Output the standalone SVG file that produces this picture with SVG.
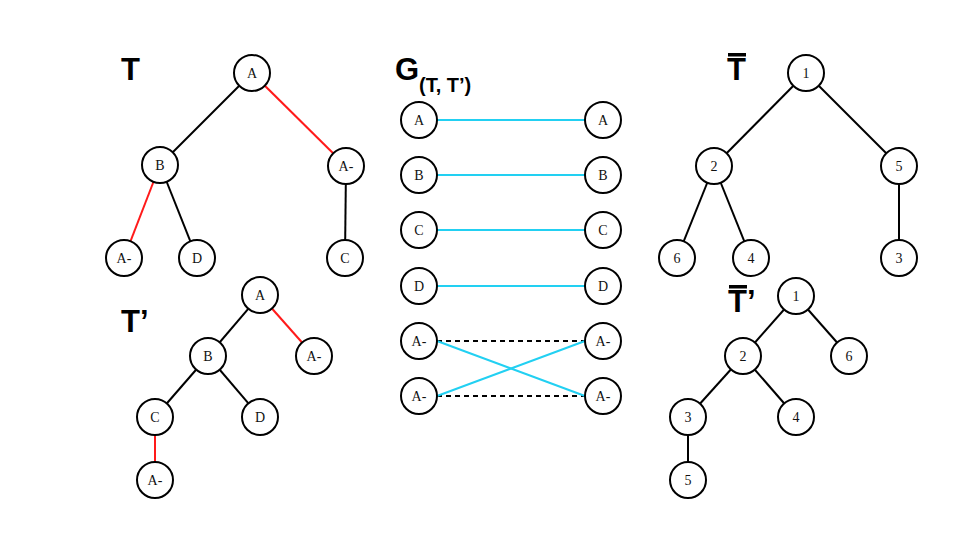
<svg xmlns="http://www.w3.org/2000/svg" width="960" height="540" viewBox="0 0 960 540">
  <style>
    .node circle { fill: #ffffff; stroke: #000000; stroke-width: 2; }
    .node text { font-family: "Liberation Serif", "Times New Roman", serif; font-size: 14px; fill: #111111; text-anchor: middle; dominant-baseline: central; }
    .edge { stroke: #000000; stroke-width: 2; fill: none; }
    .red { stroke: #ff1a1a; }
    .match { stroke: #22d0f2; stroke-width: 2; fill: none; }
    .dash { stroke: #000000; stroke-width: 2; stroke-dasharray: 5 4; fill: none; }
    .title { font-family: "Liberation Sans", Arial, sans-serif; font-weight: bold; fill: #000000; }
  </style>
  <rect width="960" height="540" fill="#ffffff"/>

  <!-- titles -->
  <text class="title" x="121" y="80" font-size="31">T</text>
  <text class="title" x="121" y="332" font-size="31">T’</text>
  <text class="title" x="395" y="80" font-size="31">G</text>
  <text class="title" x="419" y="92" font-size="20">(T, T’)</text>
  <text class="title" x="727" y="80" font-size="31">T</text>
  <rect x="728" y="53" width="18" height="3.5" fill="#000000"/>
  <text class="title" x="728" y="312" font-size="31">T’</text>
  <rect x="729" y="285" width="18" height="3.5" fill="#000000"/>

  <!-- connectors -->
  <g id="connectors">
    <!-- T -->
    <line class="edge" x1="252" y1="73" x2="160" y2="165"/>
    <line class="edge red" x1="252" y1="73" x2="346" y2="166"/>
    <line class="edge red" x1="160" y1="165" x2="124" y2="258"/>
    <line class="edge" x1="160" y1="165" x2="197" y2="258"/>
    <line class="edge" x1="346" y1="166" x2="345" y2="258"/>
    <!-- T' -->
    <line class="edge" x1="260" y1="295" x2="208" y2="356"/>
    <line class="edge red" x1="260" y1="295" x2="314" y2="356"/>
    <line class="edge" x1="208" y1="356" x2="155" y2="417"/>
    <line class="edge" x1="208" y1="356" x2="260" y2="417"/>
    <line class="edge red" x1="155" y1="417" x2="155" y2="480"/>
    <!-- G(T, T') -->
    <line class="match" x1="437" y1="120" x2="585" y2="120"/>
    <line class="match" x1="437" y1="175" x2="585" y2="175"/>
    <line class="match" x1="437" y1="230" x2="585" y2="230"/>
    <line class="match" x1="437" y1="286" x2="585" y2="286"/>
    <line class="dash" x1="437" y1="341" x2="585" y2="341"/>
    <line class="dash" x1="437" y1="396" x2="585" y2="396"/>
    <line class="match" x1="437" y1="341" x2="585" y2="396"/>
    <line class="match" x1="437" y1="396" x2="585" y2="341"/>
    <!-- T bar -->
    <line class="edge" x1="806" y1="73" x2="714" y2="166"/>
    <line class="edge" x1="806" y1="73" x2="899" y2="166"/>
    <line class="edge" x1="714" y1="166" x2="677" y2="258"/>
    <line class="edge" x1="714" y1="166" x2="751" y2="258"/>
    <line class="edge" x1="899" y1="166" x2="899" y2="258"/>
    <!-- T' bar -->
    <line class="edge" x1="796" y1="296" x2="743" y2="356"/>
    <line class="edge" x1="796" y1="296" x2="849" y2="356"/>
    <line class="edge" x1="743" y1="356" x2="688" y2="417"/>
    <line class="edge" x1="743" y1="356" x2="796" y2="417"/>
    <line class="edge" x1="688" y1="417" x2="688" y2="480"/>
  </g>

  <!-- tree T -->
  <g id="t-A" class="node"><circle cx="252" cy="73" r="18"/><text x="252" y="73">A</text></g>
  <g id="t-B" class="node"><circle cx="160" cy="165" r="18"/><text x="160" y="165">B</text></g>
  <g id="t-Am1" class="node"><circle cx="346" cy="166" r="18"/><text x="346" y="166">A-</text></g>
  <g id="t-Am2" class="node"><circle cx="124" cy="258" r="18"/><text x="124" y="258">A-</text></g>
  <g id="t-D" class="node"><circle cx="197" cy="258" r="18"/><text x="197" y="258">D</text></g>
  <g id="t-C" class="node"><circle cx="345" cy="258" r="18"/><text x="345" y="258">C</text></g>

  <!-- tree T' -->
  <g id="tp-A" class="node"><circle cx="260" cy="295" r="18"/><text x="260" y="295">A</text></g>
  <g id="tp-B" class="node"><circle cx="208" cy="356" r="18"/><text x="208" y="356">B</text></g>
  <g id="tp-Am1" class="node"><circle cx="314" cy="356" r="18"/><text x="314" y="356">A-</text></g>
  <g id="tp-C" class="node"><circle cx="155" cy="417" r="18"/><text x="155" y="417">C</text></g>
  <g id="tp-D" class="node"><circle cx="260" cy="417" r="18"/><text x="260" y="417">D</text></g>
  <g id="tp-Am2" class="node"><circle cx="155" cy="480" r="18"/><text x="155" y="480">A-</text></g>

  <!-- matching graph -->
  <g id="g-l-A" class="node"><circle cx="419" cy="120" r="18"/><text x="419" y="120">A</text></g>
  <g id="g-l-B" class="node"><circle cx="419" cy="175" r="18"/><text x="419" y="175">B</text></g>
  <g id="g-l-C" class="node"><circle cx="419" cy="230" r="18"/><text x="419" y="230">C</text></g>
  <g id="g-l-D" class="node"><circle cx="419" cy="286" r="18"/><text x="419" y="286">D</text></g>
  <g id="g-l-Am1" class="node"><circle cx="419" cy="341" r="18"/><text x="419" y="341">A-</text></g>
  <g id="g-l-Am2" class="node"><circle cx="419" cy="396" r="18"/><text x="419" y="396">A-</text></g>
  <g id="g-r-A" class="node"><circle cx="603" cy="120" r="18"/><text x="603" y="120">A</text></g>
  <g id="g-r-B" class="node"><circle cx="603" cy="175" r="18"/><text x="603" y="175">B</text></g>
  <g id="g-r-C" class="node"><circle cx="603" cy="230" r="18"/><text x="603" y="230">C</text></g>
  <g id="g-r-D" class="node"><circle cx="603" cy="286" r="18"/><text x="603" y="286">D</text></g>
  <g id="g-r-Am1" class="node"><circle cx="603" cy="341" r="18"/><text x="603" y="341">A-</text></g>
  <g id="g-r-Am2" class="node"><circle cx="603" cy="396" r="18"/><text x="603" y="396">A-</text></g>

  <!-- tree T bar -->
  <g id="tb-1" class="node"><circle cx="806" cy="73" r="18"/><text x="806" y="73">1</text></g>
  <g id="tb-2" class="node"><circle cx="714" cy="166" r="18"/><text x="714" y="166">2</text></g>
  <g id="tb-5" class="node"><circle cx="899" cy="166" r="18"/><text x="899" y="166">5</text></g>
  <g id="tb-6" class="node"><circle cx="677" cy="258" r="18"/><text x="677" y="258">6</text></g>
  <g id="tb-4" class="node"><circle cx="751" cy="258" r="18"/><text x="751" y="258">4</text></g>
  <g id="tb-3" class="node"><circle cx="899" cy="258" r="18"/><text x="899" y="258">3</text></g>

  <!-- tree T' bar -->
  <g id="tpb-1" class="node"><circle cx="796" cy="296" r="18"/><text x="796" y="296">1</text></g>
  <g id="tpb-2" class="node"><circle cx="743" cy="356" r="18"/><text x="743" y="356">2</text></g>
  <g id="tpb-6" class="node"><circle cx="849" cy="356" r="18"/><text x="849" y="356">6</text></g>
  <g id="tpb-3" class="node"><circle cx="688" cy="417" r="18"/><text x="688" y="417">3</text></g>
  <g id="tpb-4" class="node"><circle cx="796" cy="417" r="18"/><text x="796" y="417">4</text></g>
  <g id="tpb-5" class="node"><circle cx="688" cy="480" r="18"/><text x="688" y="480">5</text></g>
</svg>
